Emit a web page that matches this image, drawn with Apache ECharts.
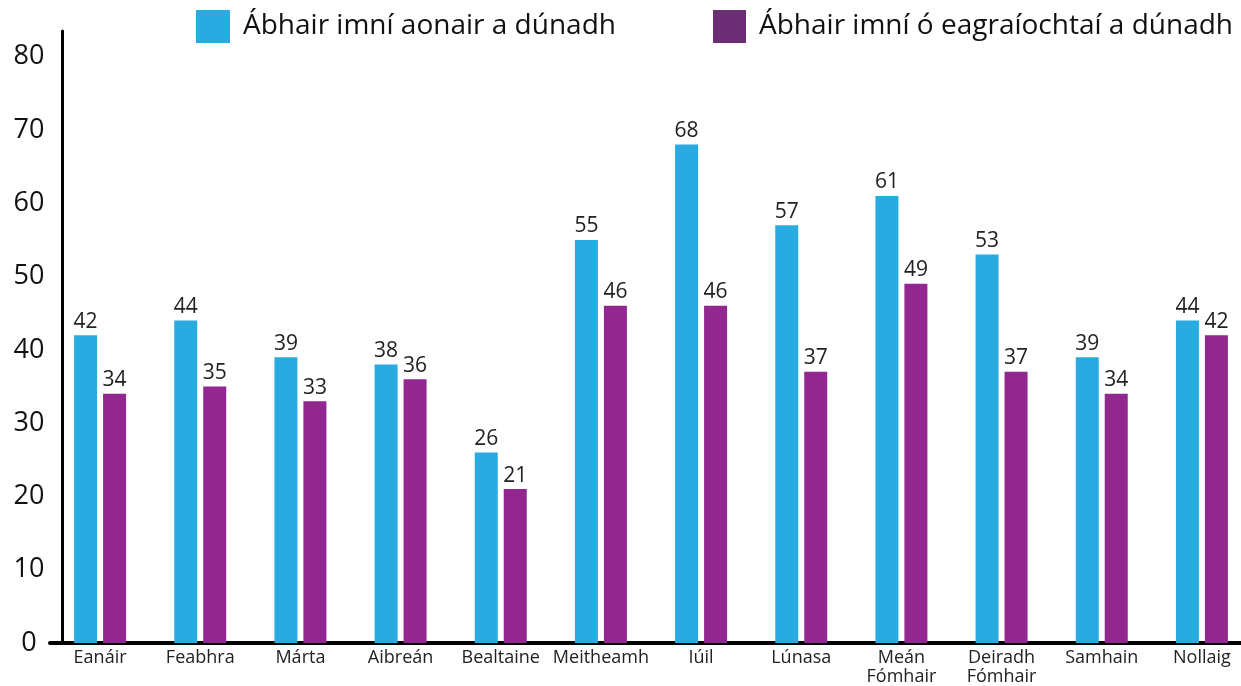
<!DOCTYPE html>
<html>
<head>
<meta charset="utf-8">
<script src="https://cdn.jsdelivr.net/npm/echarts@6/dist/echarts.min.js"></script>
<style>
  html, body { margin: 0; padding: 0; background: #fff; }
  #chart { width: 1241px; height: 686px; }
</style>
</head>
<body>
<div id="chart"></div>
<script>
// months (Irish)
const months = ['Eanáir', 'Feabhra', 'Márta', 'Aibreán', 'Bealtaine', 'Meitheamh', 'Iúil',
  'Lúnasa', 'Meán\nFómhair', 'Deiradh\nFómhair', 'Samhain', 'Nollaig'];
const seriesNames = ['Ábhair imní aonair a dúnadh', 'Ábhair imní ó eagraíochtaí a dúnadh'];
const individual = [42, 44, 39, 38, 26, 55, 68, 57, 61, 53, 39, 44];
const organisations = [34, 35, 33, 36, 21, 46, 46, 37, 49, 37, 34, 42];
const yTicks = [0, 10, 20, 30, 40, 50, 60, 70, 80];

const font = '"Open Sans", "Noto Sans", sans-serif';
const chart = echarts.init(document.getElementById('chart'));

const labelStyle = {
  show: true,
  position: 'top',
  distance: 3,
  color: '#222',
  fontSize: 21,
  fontFamily: font
};

chart.setOption({
  animation: false,
  legend: [
    {
      left: 196, top: 10, padding: 0,
      itemWidth: 34, itemHeight: 33, itemGap: 0,
      icon: 'rect',
      textStyle: { fontSize: 28, color: '#111', fontFamily: font, padding: [0, 0, 0, 8] },
      data: [{ name: seriesNames[0], itemStyle: { color: '#29ABE2' } }]
    },
    {
      left: 713, top: 10, padding: 0,
      itemWidth: 33, itemHeight: 33, itemGap: 0,
      icon: 'rect',
      textStyle: { fontSize: 28, color: '#111', fontFamily: font, padding: [0, 0, 0, 8] },
      data: [{ name: seriesNames[1], itemStyle: { color: '#6B2D74' } }]
    }
  ],
  grid: { left: 50, top: 31, width: 1202, bottom: 43, containLabel: false, outerBoundsMode: 'none' },
  xAxis: {
    type: 'category',
    data: months,
    axisLine: { show: true, lineStyle: { color: '#000', width: 4 } },
    axisTick: { show: false },
    axisLabel: { color: '#222', fontSize: 18, fontFamily: font, lineHeight: 19, margin: 5, interval: 0 }
  },
  yAxis: {
    type: 'value',
    min: 0, max: 83.5, interval: 10,
    offset: -12,
    splitLine: { show: false },
    axisTick: { show: false },
    axisLine: { show: true, lineStyle: { color: '#000', width: 3 } },
    axisLabel: {
      color: '#111', fontSize: 27, fontFamily: font, align: 'center', margin: 33,
      formatter: v => (yTicks.includes(v) ? String(v) : '')
    }
  },
  series: [
    {
      name: seriesNames[0], type: 'bar', data: individual,
      barWidth: 23, barGap: '26%',
      itemStyle: { color: '#29ABE2' },
      label: labelStyle
    },
    {
      name: seriesNames[1], type: 'bar', data: organisations,
      barWidth: 23,
      itemStyle: { color: '#92278F' },
      label: labelStyle
    }
  ]
});
</script>
</body>
</html>
